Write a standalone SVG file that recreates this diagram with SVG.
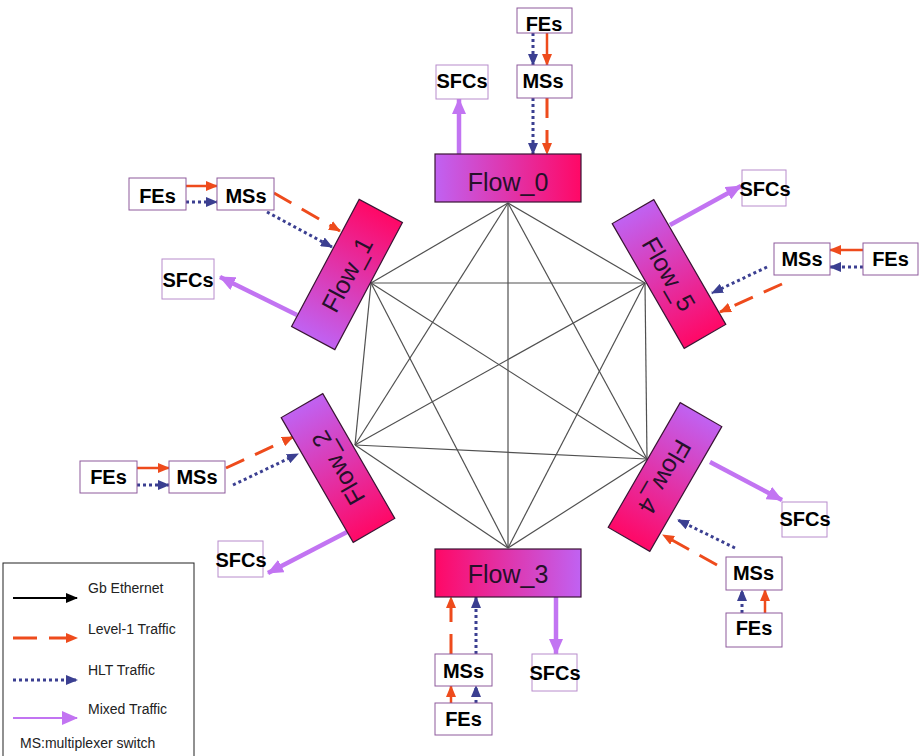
<svg xmlns="http://www.w3.org/2000/svg" width="922" height="756" viewBox="0 0 922 756">
  <defs>
    <linearGradient id="gA" x1="0" y1="0" x2="1" y2="0">
      <stop offset="0" stop-color="#c062f2"/>
      <stop offset="1" stop-color="#ff0866"/>
    </linearGradient>
    <linearGradient id="gB" x1="0" y1="0" x2="1" y2="0">
      <stop offset="0" stop-color="#ff0866"/>
      <stop offset="1" stop-color="#c062f2"/>
    </linearGradient>
    <marker id="aR" markerUnits="userSpaceOnUse" viewBox="0 0 12 10" markerWidth="12" markerHeight="10" refX="11" refY="5" orient="auto">
      <path d="M0,0 L12,5 L0,10 z" fill="#ee4b1c"/>
    </marker>
    <marker id="aB" markerUnits="userSpaceOnUse" viewBox="0 0 12 10" markerWidth="12" markerHeight="10" refX="11" refY="5" orient="auto">
      <path d="M0,0 L12,5 L0,10 z" fill="#3b3f91"/>
    </marker>
    <marker id="aP" markerUnits="userSpaceOnUse" viewBox="0 0 16 14" markerWidth="16" markerHeight="14" refX="15" refY="7" orient="auto">
      <path d="M0,0 L16,7 L0,14 z" fill="#c274f2"/>
    </marker>
    <marker id="aK" markerUnits="userSpaceOnUse" viewBox="0 0 12 10" markerWidth="12" markerHeight="10" refX="11" refY="5" orient="auto">
      <path d="M0,0 L12,5 L0,10 z" fill="#000"/>
    </marker>
  </defs>
  <style>
    .box { fill: #fff; stroke: #8e5a9c; stroke-width: 1; }
    .sfc { fill: #fff; stroke: #b88ccc; stroke-width: 1; }
    .lbl { font-family: "Liberation Sans", Arial, sans-serif; font-weight: bold; font-size: 20px; text-anchor: middle; fill: #000; }
    .flow { stroke: #3a1434; stroke-width: 1.2; }
    .ftxt { font-family: "Liberation Sans", Arial, sans-serif; font-size: 25px; text-anchor: middle; fill: #26102a; }
    .mesh line { stroke: #505050; stroke-width: 1.2; }
    .l1 { stroke: #ee4b1c; stroke-width: 3; fill: none; }
    .l1s { stroke: #ee4b1c; stroke-width: 2.5; fill: none; marker-end: url(#aR); }
    .l1d { stroke: #ee4b1c; stroke-width: 3; fill: none; stroke-dasharray: 20 12; marker-end: url(#aR); }
    .hlt { stroke: #3b3f91; stroke-width: 3; fill: none; stroke-dasharray: 3 3; marker-end: url(#aB); }
    .mix { stroke: #c274f2; stroke-width: 4.5; fill: none; marker-end: url(#aP); }
    .leg { font-family: "Liberation Sans", Arial, sans-serif; font-size: 14px; fill: #222; }
  </style>

  <rect width="922" height="756" fill="#fff"/>

  <!-- full mesh of Gb Ethernet links between the six flow nodes -->
  <g id="mesh" class="mesh">
    <line x1="508" y1="203" x2="371" y2="283"/>
    <line x1="508" y1="203" x2="355" y2="445"/>
    <line x1="508" y1="203" x2="508" y2="548"/>
    <line x1="508" y1="203" x2="647" y2="459"/>
    <line x1="508" y1="203" x2="645" y2="283"/>
    <line x1="371" y1="283" x2="355" y2="445"/>
    <line x1="371" y1="283" x2="508" y2="548"/>
    <line x1="371" y1="283" x2="647" y2="459"/>
    <line x1="371" y1="283" x2="645" y2="283"/>
    <line x1="355" y1="445" x2="508" y2="548"/>
    <line x1="355" y1="445" x2="647" y2="459"/>
    <line x1="355" y1="445" x2="645" y2="283"/>
    <line x1="508" y1="548" x2="647" y2="459"/>
    <line x1="508" y1="548" x2="645" y2="283"/>
    <line x1="647" y1="459" x2="645" y2="283"/>
  </g>

  <!-- traffic connectors -->
  <g id="connectors">
    <!-- Flow_0 -->
    <line class="hlt" x1="533" y1="33" x2="533" y2="65"/>
    <line class="l1s" x1="547" y1="33" x2="547" y2="65"/>
    <line class="hlt" x1="533" y1="98" x2="533" y2="154"/>
    <line class="l1d" x1="547" y1="98" x2="547" y2="154"/>
    <line class="mix" x1="459" y1="154" x2="459" y2="99"/>
    <!-- Flow_1 -->
    <line class="l1s" x1="186" y1="186" x2="217" y2="186"/>
    <line class="hlt" x1="186" y1="202" x2="217" y2="202"/>
    <line class="l1d" x1="274" y1="193" x2="340" y2="231"/>
    <line class="hlt" x1="267" y1="212" x2="332" y2="247"/>
    <line class="mix" x1="297" y1="315" x2="220" y2="277"/>
    <!-- Flow_5 -->
    <line class="l1s" x1="863" y1="250" x2="830" y2="250"/>
    <line class="hlt" x1="863" y1="267" x2="830" y2="267"/>
    <line class="hlt" x1="767" y1="267" x2="712" y2="293"/>
    <line class="l1d" x1="782" y1="284" x2="720" y2="312"/>
    <line class="mix" x1="670" y1="225" x2="741" y2="186"/>
    <!-- Flow_2 -->
    <line class="l1s" x1="137" y1="468" x2="169" y2="468"/>
    <line class="hlt" x1="137" y1="485" x2="169" y2="485"/>
    <line class="l1d" x1="226" y1="468" x2="293" y2="437"/>
    <line class="hlt" x1="233" y1="485" x2="298" y2="454"/>
    <line class="mix" x1="347" y1="532" x2="268" y2="573"/>
    <!-- Flow_4 -->
    <line class="hlt" x1="742" y1="613" x2="742" y2="590"/>
    <line class="l1s" x1="765" y1="613" x2="765" y2="590"/>
    <line class="hlt" x1="735" y1="548" x2="678" y2="520"/>
    <line class="l1d" x1="717" y1="565" x2="663" y2="535"/>
    <line class="mix" x1="710" y1="462" x2="782" y2="500"/>
    <!-- Flow_3 -->
    <line class="l1d" x1="451" y1="654" x2="451" y2="597"/>
    <line class="hlt" x1="476" y1="654" x2="476" y2="597"/>
    <line class="l1s" x1="451" y1="703" x2="451" y2="686"/>
    <line class="hlt" x1="476" y1="703" x2="476" y2="686"/>
    <line class="mix" x1="556" y1="597" x2="556" y2="654"/>
  </g>

  <!-- flow nodes -->
  <g id="flow0" transform="translate(508,178)">
    <rect class="flow" x="-73" y="-24" width="146" height="48" fill="url(#gA)"/>
    <text class="ftxt" x="0" y="13">Flow_0</text>
  </g>
  <g id="flow1" transform="translate(347,274.5) rotate(-62)">
    <rect class="flow" x="-72" y="-24.5" width="144" height="49" fill="url(#gA)"/>
    <text class="ftxt" x="0" y="9">Flow_1</text>
  </g>
  <g id="flow2" transform="translate(338,468) rotate(-120)">
    <rect class="flow" x="-72" y="-24" width="144" height="48" fill="url(#gB)"/>
    <text class="ftxt" x="0" y="9">Flow_2</text>
  </g>
  <g id="flow3" transform="translate(508,573)">
    <rect class="flow" x="-73" y="-24" width="146" height="48" fill="url(#gB)"/>
    <text class="ftxt" x="0" y="10">Flow_3</text>
  </g>
  <g id="flow4" transform="translate(665,477) rotate(120)">
    <rect class="flow" x="-72" y="-24" width="144" height="48" fill="url(#gA)"/>
    <text class="ftxt" x="0" y="9">Flow_4</text>
  </g>
  <g id="flow5" transform="translate(669,274) rotate(60)">
    <rect class="flow" x="-72" y="-24" width="144" height="48" fill="url(#gA)"/>
    <text class="ftxt" x="0" y="9">Flow_5</text>
  </g>

  <!-- front-end, multiplexer switch and SFC nodes -->
  <g id="fes0"><rect class="box" x="517" y="8" width="55" height="25"/><text class="lbl" x="544" y="31">FEs</text></g>
  <g id="mss0"><rect class="box" x="517" y="65" width="55" height="33"/><text class="lbl" x="543" y="88">MSs</text></g>
  <g id="sfcs0"><rect class="sfc" x="436" y="65" width="52" height="34"/><text class="lbl" x="462" y="88">SFCs</text></g>

  <g id="fes1"><rect class="box" x="129" y="178" width="57" height="32"/><text class="lbl" x="157.5" y="202.5">FEs</text></g>
  <g id="mss1"><rect class="box" x="217" y="178" width="57" height="32"/><text class="lbl" x="246" y="202.5">MSs</text></g>
  <g id="sfcs1"><rect class="sfc" x="162" y="259" width="52" height="40"/><text class="lbl" x="188" y="286.5">SFCs</text></g>

  <g id="sfcs5"><rect class="sfc" x="742" y="170" width="44" height="36"/><text class="lbl" x="765" y="196">SFCs</text></g>
  <g id="mss5"><rect class="box" x="774" y="243" width="56" height="32"/><text class="lbl" x="802" y="266">MSs</text></g>
  <g id="fes5"><rect class="box" x="863" y="243" width="55" height="32"/><text class="lbl" x="890.5" y="266">FEs</text></g>

  <g id="fes2"><rect class="box" x="80" y="461" width="57" height="32"/><text class="lbl" x="108.5" y="484">FEs</text></g>
  <g id="mss2"><rect class="box" x="169" y="461" width="56" height="32"/><text class="lbl" x="197" y="484">MSs</text></g>
  <g id="sfcs2"><rect class="sfc" x="218" y="541" width="45" height="36"/><text class="lbl" x="241" y="566.5">SFCs</text></g>

  <g id="sfcs4"><rect class="sfc" x="782" y="502" width="45" height="35"/><text class="lbl" x="805" y="526">SFCs</text></g>
  <g id="mss4"><rect class="box" x="726" y="557" width="56" height="33"/><text class="lbl" x="753.5" y="580">MSs</text></g>
  <g id="fes4"><rect class="box" x="726" y="613" width="56" height="34"/><text class="lbl" x="754" y="635">FEs</text></g>

  <g id="mss3"><rect class="box" x="435" y="654" width="57" height="32"/><text class="lbl" x="463.5" y="677.5">MSs</text></g>
  <g id="fes3"><rect class="box" x="435" y="703" width="57" height="32"/><text class="lbl" x="463.5" y="726">FEs</text></g>
  <g id="sfcs3"><rect class="sfc" x="532" y="654" width="45" height="37"/><text class="lbl" x="555" y="680">SFCs</text></g>

  <!-- legend -->
  <g id="legend">
    <rect x="3" y="563" width="191" height="200" fill="#fff" stroke="#222" stroke-width="1"/>
    <line x1="13" y1="598" x2="77" y2="598" stroke="#000" stroke-width="2" marker-end="url(#aK)"/>
    <text class="leg" x="88" y="593">Gb Ethernet</text>
    <line x1="13" y1="638" x2="77" y2="638" stroke="#ee4b1c" stroke-width="3" stroke-dasharray="24 12" marker-end="url(#aR)"/>
    <text class="leg" x="88" y="634">Level-1 Traffic</text>
    <line x1="13" y1="680" x2="77" y2="680" stroke="#3b3f91" stroke-width="3" stroke-dasharray="3 3" marker-end="url(#aB)"/>
    <text class="leg" x="88" y="675">HLT Traffic</text>
    <line x1="13" y1="718" x2="77" y2="718" stroke="#c274f2" stroke-width="2" marker-end="url(#aP)"/>
    <text class="leg" x="88" y="714">Mixed Traffic</text>
    <text class="leg" x="20" y="748">MS:multiplexer switch</text>
  </g>
</svg>
